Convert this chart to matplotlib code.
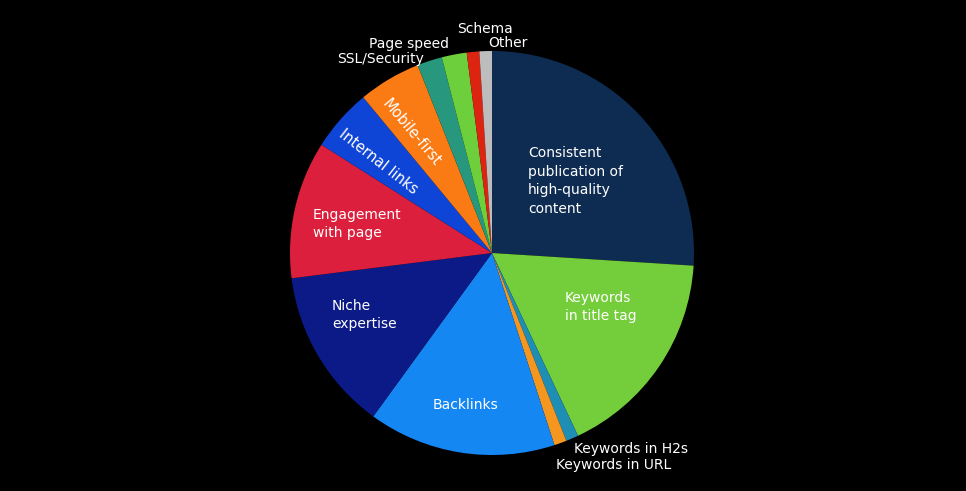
import matplotlib
matplotlib.use("Agg")
import matplotlib.pyplot as plt

# share of ranking factors (percent), clockwise from 12 o'clock
factors = ["Consistent publication of high-quality content", "Keywords in title tag",
           "Keywords in H2s", "Keywords in URL", "Backlinks", "Niche expertise",
           "Engagement with page", "Internal links", "Mobile-first", "SSL/Security",
           "Page speed", "Schema", "Other"]
shares = [26, 17, 1, 1, 15, 13, 11, 5, 5, 2, 2, 1, 1]
colors = ["#0e2c52", "#74cd3b", "#1f8eb5", "#f5961f", "#1487f2", "#0b1a86",
          "#dc1f3c", "#0f45d6", "#fa7a14", "#27987e", "#6dcf3c", "#dd2410", "#bdbdbd"]

W, H = 966, 491
CX, CY, R = 492, 253, 202


def px(x, y):
    # image pixel -> data coords (pie centre at 0,0, radius 1)
    return (x - CX) / R, (CY - y) / R


plt.rcParams['font.family'] = ['DejaVu Sans']
fig = plt.figure(figsize=(W / 100, H / 100), dpi=100, facecolor="black")
ax = fig.add_axes([0, 0, 1, 1])
ax.set_facecolor("black")
ax.pie(shares, colors=colors, startangle=90, counterclock=False, radius=1,
       wedgeprops=dict(linewidth=0))
ax.set_xlim(-CX / R, (W - CX) / R)
ax.set_ylim(-(H - CY) / R, CY / R)
ax.set_aspect("equal")
ax.axis("off")

txt = dict(color="white", fontsize=10, linespacing=1.4)

# labels inside slices (left aligned)
inside = [
    ("Consistent\npublication of\nhigh-quality\ncontent", 528, 181),
    ("Keywords\nin title tag", 565, 307),
    ("Backlinks", 433, 405),
    ("Niche\nexpertise", 332, 315),
    ("Engagement\nwith page", 313, 224),
]
for s, x, y in inside:
    ax.text(*px(x, y), s, ha="left", va="center", **txt)

ax.text(*px(378, 162), "Internal links", ha="center", va="center",
        rotation=-38, rotation_mode="anchor", color="white", fontsize=10.5)
ax.text(*px(411, 133), "Mobile-first", ha="center", va="center",
        rotation=-50, rotation_mode="anchor", color="white", fontsize=10.5)

# labels outside the pie
outside = [
    ("SSL/Security", 337, 59),
    ("Page speed", 369, 44),
    ("Schema", 457, 29),
    ("Other", 488, 43),
    ("Keywords in H2s", 574, 449),
    ("Keywords in URL", 556, 465),
]
for s, x, y in outside:
    ax.text(*px(x, y), s, ha="left", va="center", **txt)

fig.savefig("out.png", dpi=100, facecolor="black")
